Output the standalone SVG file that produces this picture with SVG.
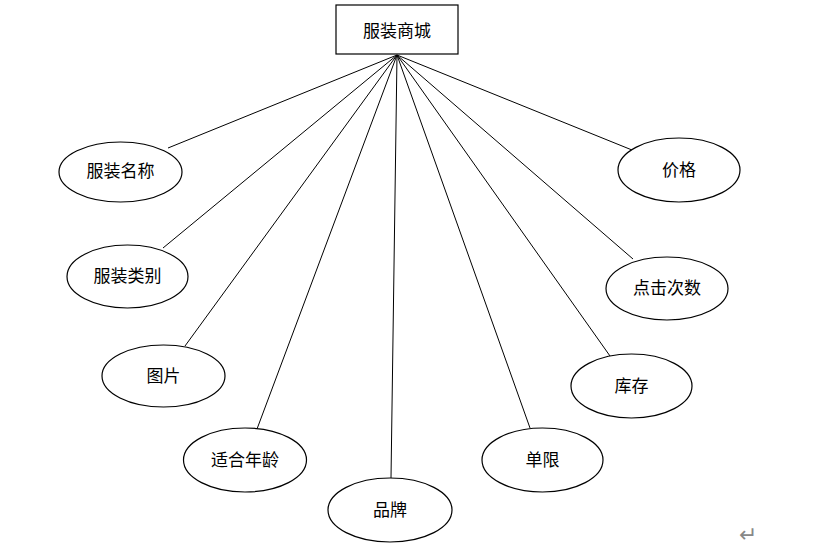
<svg xmlns="http://www.w3.org/2000/svg" width="813" height="552" viewBox="0 0 813 552">
<style>
.n{fill:#fff;stroke:#000;stroke-width:1.2}
.c line{stroke:#000;stroke-width:1}
text{font-family:"Noto Sans CJK SC","Noto Sans",sans-serif;font-size:17px;fill:#000;text-anchor:middle;dominant-baseline:central}
.mark{fill:#888;font-family:"DejaVu Sans",sans-serif;font-size:22px}
</style>
<rect width="813" height="552" fill="#fff"/>
<g class="c" id="connectors">
<line x1="397" y1="55" x2="168" y2="148"/>
<line x1="397" y1="55" x2="163" y2="248"/>
<line x1="397" y1="55" x2="185" y2="346"/>
<line x1="397" y1="55" x2="257" y2="429"/>
<line x1="397" y1="55" x2="391" y2="478"/>
<line x1="397" y1="55" x2="530" y2="428"/>
<line x1="397" y1="55" x2="610" y2="356"/>
<line x1="397" y1="55" x2="633" y2="259"/>
<line x1="397" y1="55" x2="632" y2="150"/>
</g>
<g id="root"><rect class="n" x="336" y="5" width="122" height="49"/><text x="397" y="29">服装商城</text></g>
<g id="name"><ellipse class="n" cx="120.5" cy="172" rx="61.5" ry="30"/><text x="120.5" y="169">服装名称</text></g>
<g id="category"><ellipse class="n" cx="127.5" cy="276.5" rx="60.5" ry="31.5"/><text x="127.5" y="274">服装类别</text></g>
<g id="image"><ellipse class="n" cx="163.5" cy="376" rx="61.5" ry="31"/><text x="163.5" y="374">图片</text></g>
<g id="age"><ellipse class="n" cx="245" cy="460" rx="61.5" ry="32"/><text x="245" y="458">适合年龄</text></g>
<g id="brand"><ellipse class="n" cx="390" cy="510" rx="62" ry="32"/><text x="390" y="508">品牌</text></g>
<g id="limit"><ellipse class="n" cx="542.5" cy="460" rx="60.5" ry="32"/><text x="542.5" y="458">单限</text></g>
<g id="stock"><ellipse class="n" cx="631.5" cy="386" rx="60.5" ry="32"/><text x="631.5" y="384">库存</text></g>
<g id="clicks"><ellipse class="n" cx="667" cy="288.5" rx="61" ry="31.5"/><text x="667" y="286">点击次数</text></g>
<g id="price"><ellipse class="n" cx="679" cy="170" rx="61" ry="32"/><text x="679" y="168">价格</text></g>
<text class="mark" x="748" y="534">↵</text>
</svg>
